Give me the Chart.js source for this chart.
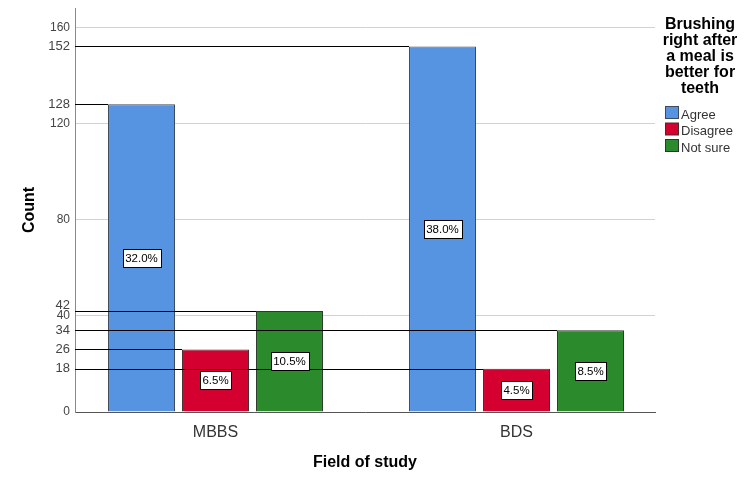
<!DOCTYPE html>
<html>
<head>
<meta charset="utf-8">
<script src="https://cdn.jsdelivr.net/npm/chart.js@4.4.1/dist/chart.umd.min.js"></script>
<style>
  html, body { margin: 0; padding: 0; background: #fff; }
  #wrap { width: 750px; height: 486px; }
</style>
</head>
<body>
<div id="wrap"><canvas id="chart" width="750" height="486"></canvas></div>
<script>
// Field of study vs "Brushing right after a meal is better for teeth"

const categories = ['MBBS', 'BDS'];
const agreeCounts = [128, 152];
const disagreeCounts = [26, 18];
const notSureCounts = [42, 34];

// percent labels shown inside the bars
const agreePct = ['32.0%', '38.0%'];
const disagreePct = ['6.5%', '4.5%'];
const notSurePct = ['10.5%', '8.5%'];

const yTicks = [0, 18, 26, 34, 40, 42, 80, 120, 128, 152, 160];
const gridTicks = [0, 40, 80, 120, 160];

const legendTitle = ['Brushing', 'right after', 'a meal is', 'better for', 'teeth'];

const FONT = '"Liberation Sans", Arial, sans-serif';

function toPoints(values) {
    return values.map((v, i) => ({ x: i, y: v }));
}

const pctLabels = [agreePct, disagreePct, notSurePct];

// the "42" label sits a little above its line so it doesn't collide with "40"
const tickNudgePlugin = {
    id: 'tickNudge',
    beforeDraw(chart) {
        const scale = chart.scales.y;
        scale.getLabelItems(chart.chartArea).forEach(item => {
            if (item.label === '42' && !item._nudged) {
                item.options.translation[1] -= 6;
                item._nudged = true;
            }
        });
    }
};

// reference line from the axis to each bar's left edge
const refLinesPlugin = {
    id: 'refLines',
    afterDatasetsDraw(chart) {
        const ctx = chart.ctx;
        const left = chart.chartArea.left;
        ctx.save();
        ctx.strokeStyle = '#000';
        ctx.lineWidth = 1;
        chart.data.datasets.forEach((ds, di) => {
            chart.getDatasetMeta(di).data.forEach(bar => {
                const { x, y, width } = bar.getProps(['x', 'y', 'width'], true);
                const py = Math.round(y) + 0.5;
                ctx.beginPath();
                ctx.moveTo(left, py);
                ctx.lineTo(x - width / 2, py);
                ctx.stroke();
            });
        });
        ctx.restore();
    }
};

// white boxed percent labels in the middle of each bar
const pctLabelPlugin = {
    id: 'pctLabels',
    afterDatasetsDraw(chart) {
        const ctx = chart.ctx;
        ctx.save();
        ctx.font = '11.5px ' + FONT;
        ctx.textAlign = 'center';
        ctx.textBaseline = 'middle';
        chart.data.datasets.forEach((ds, di) => {
            chart.getDatasetMeta(di).data.forEach((bar, i) => {
                const { x, y, base } = bar.getProps(['x', 'y', 'base'], true);
                const text = pctLabels[di][i];
                const cy = Math.round((y + base) / 2);
                const w = Math.round(ctx.measureText(text).width) + 5;
                const h = 18;
                const bx = Math.round(x - w / 2) + 0.5;
                const by = Math.round(cy - h / 2) + 0.5;
                ctx.fillStyle = '#fff';
                ctx.fillRect(bx, by, w, h);
                ctx.strokeStyle = '#000';
                ctx.lineWidth = 1;
                ctx.strokeRect(bx, by, w, h);
                ctx.fillStyle = '#000';
                ctx.fillText(text, x, cy + 1);
            });
        });
        ctx.restore();
    }
};

// legend on the right with a wrapped bold title
const sideLegendPlugin = {
    id: 'sideLegend',
    afterDraw(chart) {
        const ctx = chart.ctx;
        ctx.save();
        ctx.fillStyle = '#000';
        ctx.font = 'bold 16px ' + FONT;
        ctx.textAlign = 'center';
        ctx.textBaseline = 'alphabetic';
        legendTitle.forEach((line, i) => {
            ctx.fillText(line, 700, 29 + i * 16);
        });
        ctx.font = '13px ' + FONT;
        ctx.textAlign = 'left';
        chart.data.datasets.forEach((ds, i) => {
            const top = 106.5 + i * 16.5;
            ctx.fillStyle = ds.backgroundColor;
            ctx.fillRect(665.5, top, 13, 12);
            ctx.strokeStyle = ds.borderColor;
            ctx.lineWidth = 1;
            ctx.strokeRect(665.5, top, 13, 12);
            ctx.fillStyle = '#333';
            ctx.fillText(ds.label, 681, top + 12);
        });
        ctx.restore();
    }
};

const chart = new Chart(document.getElementById('chart'), {
    type: 'bar',
    data: {
        datasets: [
            {
                label: 'Agree',
                data: toPoints(agreeCounts),
                backgroundColor: '#5694E2',
                borderColor: '#3c4a5c',
                borderWidth: 1
            },
            {
                label: 'Disagree',
                data: toPoints(disagreeCounts),
                backgroundColor: '#D40030',
                borderColor: '#4a2a2a',
                borderWidth: 1
            },
            {
                label: 'Not sure',
                data: toPoints(notSureCounts),
                backgroundColor: '#2B8A2B',
                borderColor: '#2a3a2a',
                borderWidth: 1
            }
        ]
    },
    options: {
        responsive: false,
        animation: false,
        categoryPercentage: 0.7375,
        barPercentage: 0.905,
        layout: { padding: { top: 8, right: 95, bottom: 0, left: 0 } },
        plugins: {
            legend: { display: false },
            tooltip: { enabled: false }
        },
        scales: {
            x: {
                type: 'linear',
                offset: false,
                min: -0.4668,
                max: 1.4601,
                afterBuildTicks: scale => {
                    scale.ticks = categories.map((c, i) => ({ value: i }));
                },
                afterFit: scale => { scale.height = 74; },
                grid: { display: false, drawTicks: false },
                border: { color: '#555' },
                ticks: {
                    padding: 11,
                    color: '#333',
                    font: { family: FONT, size: 16 },
                    callback: value => categories[value]
                },
                title: {
                    display: true,
                    text: 'Field of study',
                    color: '#000',
                    font: { family: FONT, size: 16, weight: 'bold' },
                    padding: { top: 0, bottom: 14 }
                }
            },
            y: {
                min: 0,
                max: 168,
                afterBuildTicks: scale => {
                    scale.ticks = yTicks.map(v => ({ value: v }));
                },
                afterFit: scale => {
                    scale.width = 75;
                    scale.paddingTop = 0;
                    scale.paddingBottom = 0;
                },
                grid: {
                    drawTicks: false,
                    color: ctx => (ctx.tick && gridTicks.includes(ctx.tick.value)) ? '#d2d2d2' : 'rgba(0,0,0,0)'
                },
                border: { color: '#8a8a8a' },
                ticks: {
                    autoSkip: false,
                    padding: 5,
                    color: '#444',
                    font: ctx => ({
                        family: FONT,
                        size: (ctx.tick && gridTicks.includes(ctx.tick.value)) ? 12 : 13
                    })
                },
                title: {
                    display: true,
                    text: 'Count',
                    color: '#000',
                    font: { family: FONT, size: 16, weight: 'bold' },
                    padding: { top: 20, bottom: 0 }
                }
            }
        }
    },
    plugins: [tickNudgePlugin, refLinesPlugin, pctLabelPlugin, sideLegendPlugin]
});
</script>
</body>
</html>
